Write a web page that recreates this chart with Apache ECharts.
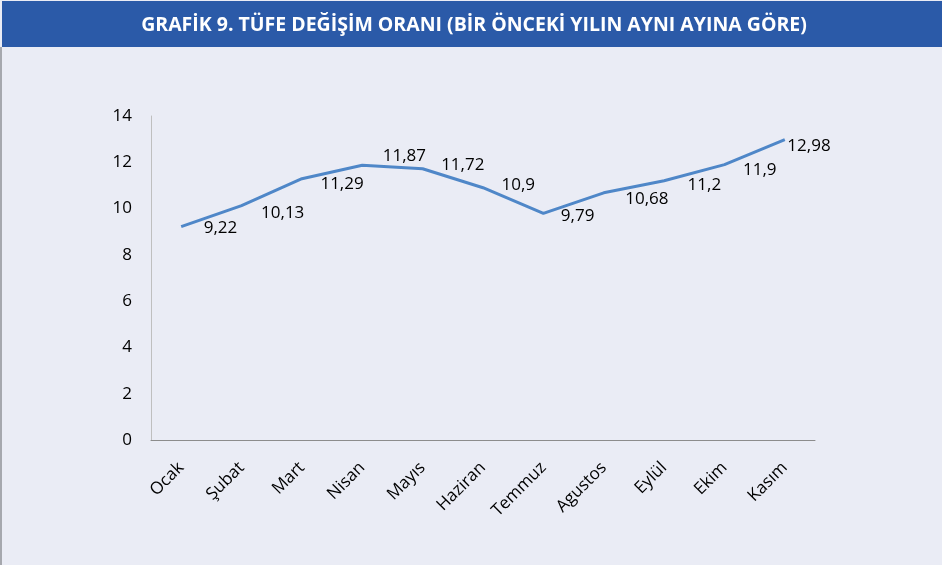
<!DOCTYPE html>
<html>
<head>
<meta charset="utf-8">
<script src="https://cdn.jsdelivr.net/npm/echarts@6/dist/echarts.min.js"></script>
<style>
  html, body { margin: 0; padding: 0; background: #fff; }
  #chart { width: 942px; height: 565px; }
</style>
</head>
<body>
<div id="chart"></div>
<script>
const titleText = 'GRAFİK 9. TÜFE DEĞİŞİM ORANI (BİR ÖNCEKİ YILIN AYNI AYINA GÖRE)';
const months = ['Ocak', 'Şubat', 'Mart', 'Nisan', 'Mayıs', 'Haziran', 'Temmuz', 'Agustos', 'Eylül', 'Ekim', 'Kasım'];
const tufe = [9.22, 10.13, 11.29, 11.87, 11.72, 10.9, 9.79, 10.68, 11.2, 11.9, 12.98];

// hand-placed data labels, like the original spreadsheet chart
const labelNudge = {
  'Ocak': [22, 2], 'Şubat': [19, 8], 'Mart': [18, 5], 'Nisan': [20, -9],
  'Mayıs': [18, -4], 'Haziran': [18, -3], 'Temmuz': [17, 3], 'Agustos': [21, 6],
  'Eylül': [23, 4], 'Ekim': [18, 6], 'Kasım': [2, 7]
};

const chart = echarts.init(document.getElementById('chart'));

chart.setOption({
  animation: false,
  backgroundColor: '#EAECF5',
  graphic: [
    {
      type: 'rect',
      shape: { x: 2, y: 1, width: 940, height: 46 },
      style: { fill: '#2B5AA8' }
    },
    {
      type: 'rect',
      shape: { x: 0, y: 47, width: 2, height: 518 },
      style: { fill: '#A6A8AE' }
    },
    {
      type: 'text',
      x: 474,
      y: 25,
      style: {
        text: titleText,
        fill: '#fff',
        font: 'bold 19.5px "Open Sans"',
        align: 'center',
        verticalAlign: 'middle'
      }
    }
  ],
  grid: { left: 151, right: 127, top: 116, bottom: 125 },
  xAxis: {
    type: 'category',
    data: months,
    boundaryGap: true,
    axisLine: { lineStyle: { color: '#8C8C8C', width: 1 } },
    axisTick: { show: false },
    axisLabel: {
      rotate: 45,
      margin: 25,
      color: '#000',
      fontSize: 17,
      fontFamily: 'Open Sans',
      interval: 0
    }
  },
  yAxis: {
    type: 'value',
    min: 0,
    max: 14,
    interval: 2,
    axisLine: { show: true, lineStyle: { color: '#BFBFBF', width: 1 } },
    axisTick: { show: false },
    splitLine: { show: false },
    axisLabel: {
      margin: 19,
      color: '#000',
      fontSize: 17,
      fontFamily: 'Open Sans'
    }
  },
  series: [{
    type: 'line',
    data: tufe.map((v, i) => ({
      value: v,
      label: { offset: labelNudge[months[i]] }
    })),
    symbol: 'circle',
    symbolSize: 1,
    itemStyle: { color: 'rgba(0,0,0,0)' },
    lineStyle: { color: '#4F87C8', width: 3 },
    label: {
      show: true,
      position: 'right',
      distance: 0,
      color: '#000',
      fontSize: 17,
      fontFamily: 'Open Sans',
      formatter: p => String(p.value).replace('.', ',')
    }
  }]
});
</script>
</body>
</html>
